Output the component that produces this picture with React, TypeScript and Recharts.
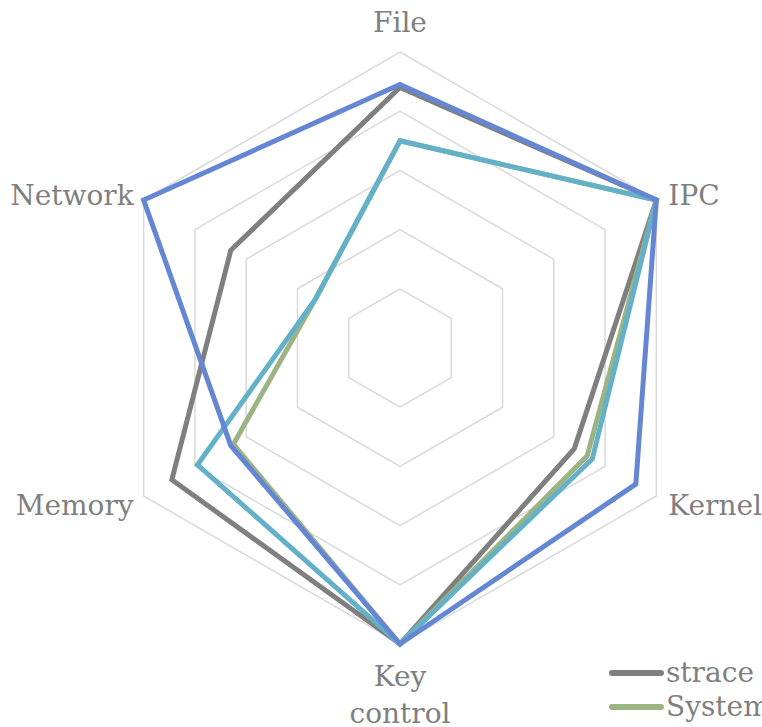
import React from 'react';
import { RadarChart, Radar, PolarGrid, PolarAngleAxis, PolarRadiusAxis, Legend } from 'recharts';

const categories = ['File', 'IPC', 'Kernel', 'Key control', 'Memory', 'Network'];
const straceValues = [88, 100, 68, 100, 89, 66];
const systemTapValues = [70, 100, 73, 100, 65, 33];
const lttngValues = [70, 100, 75, 100, 79, 33];
const ebpfValues = [89, 100, 92, 100, 66, 100];

const seriesNames = ['strace', 'SystemTap', 'LTTng', 'eBPF'];
const seriesColors = ['#7f7f7f', '#9cb382', '#63b1c8', '#6586d2'];
const seriesValues = [straceValues, systemTapValues, lttngValues, ebpfValues];

const data = categories.map((c, i) => {
  const row: Record<string, any> = { category: c };
  seriesNames.forEach((n, k) => {
    row[n] = seriesValues[k][i];
  });
  return row;
});

const CX = 400;
const CY = 348;
const R = 296;
const FONT = '"DejaVu Serif", Georgia, serif';
const LABEL_COLOR = '#7f7f7f';

const AngleTick = (props: any) => {
  const { payload } = props;
  const cx = props.cx ?? CX;
  const cy = props.cy ?? CY;
  const dx = props.x - cx;
  const dy = props.y - cy;
  const len = Math.sqrt(dx * dx + dy * dy) || 1;
  const ux = dx / len;
  const uy = dy / len;
  const vx = cx + ux * R;
  const vy = cy + uy * R;
  const label: string = payload.value;
  const common = { fill: LABEL_COLOR, fontFamily: FONT, fontSize: 28 };
  if (Math.abs(ux) < 0.1) {
    if (uy < 0) {
      return (
        <text x={vx} y={vy - 20} textAnchor="middle" {...common}>
          {label}
        </text>
      );
    }
    const words = label.split(' ');
    return (
      <text x={vx} y={vy + 42} textAnchor="middle" {...common}>
        {words.map((w, i) => (
          <tspan key={i} x={vx} dy={i === 0 ? 0 : 37}>
            {w}
          </tspan>
        ))}
      </text>
    );
  }
  const anchor = ux > 0 ? 'start' : 'end';
  const tx = vx + (ux > 0 ? 12 : -10);
  const ty = vy + (uy < 0 ? 5 : 19);
  return (
    <text x={tx} y={ty} textAnchor={anchor} {...common}>
      {label}
    </text>
  );
};

const LegendContent = () => (
  <div style={{ whiteSpace: 'nowrap' }}>
    {seriesNames.map((n, i) => (
      <div key={n} style={{ display: 'flex', alignItems: 'center', height: 34 }}>
        <svg width={58} height={34} style={{ flex: 'none' }}>
          <line x1={4} y1={17} x2={53} y2={17} stroke={seriesColors[i]} strokeWidth={6} strokeLinecap="round" />
        </svg>
        <span style={{ fontFamily: FONT, fontSize: 28, color: LABEL_COLOR, lineHeight: '34px' }}>{n}</span>
      </div>
    ))}
  </div>
);

export default function App() {
  return (
    <div style={{ position: 'absolute', left: 0, top: 0, width: 762, height: 727, overflow: 'hidden', background: '#fff' }}>
      <RadarChart width={762} height={900} data={data} cx={CX} cy={CY} outerRadius={R} margin={{ top: 0, right: 0, bottom: 0, left: 0 }}>
        <PolarGrid gridType="polygon" radialLines={false} stroke="#d9d9d9" strokeWidth={1.5} />
        <PolarRadiusAxis domain={[0, 100]} tickCount={6} axisLine={false} tick={false} />
        <PolarAngleAxis dataKey="category" tick={<AngleTick />} tickLine={false} axisLine={false} />
        {seriesNames.map((n, i) => (
          <Radar
            key={n}
            name={n}
            dataKey={n}
            stroke={seriesColors[i]}
            strokeWidth={5}
            fill="none"
            fillOpacity={0}
            dot={false}
            isAnimationActive={false}
          />
        ))}
        <Legend
          content={<LegendContent />}
          wrapperStyle={{ position: 'absolute', left: 608, top: 656, width: 400, bottom: 'auto', right: 'auto' }}
        />
      </RadarChart>
    </div>
  );
}
